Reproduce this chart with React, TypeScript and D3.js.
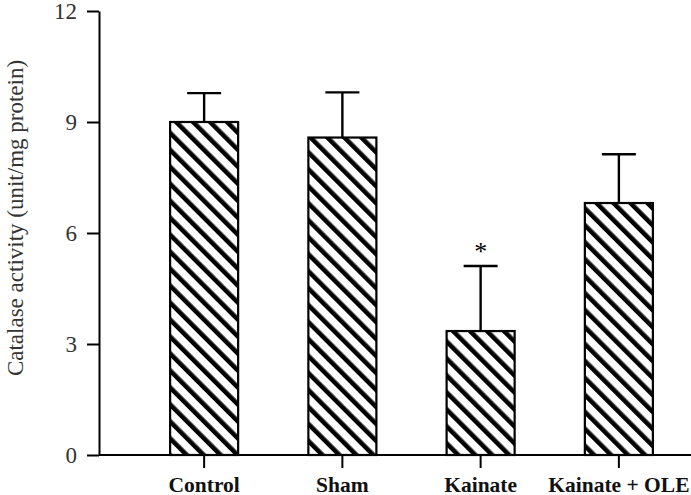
import * as d3 from 'd3'
import { useEffect, useRef } from 'react'

const width = 691
const height = 495
const marginTop = 11
const marginLeft = 99
const axisBottomY = 455

const groups = ['Control', 'Sham', 'Kainate', 'Kainate + OLE']
const means = [9.0, 8.58, 3.35, 6.81]
const errors = [0.78, 1.22, 1.76, 1.32]
const marks = ['', '', '*', '']
const yTicks = [0, 3, 6, 9, 12]

export default function App() {
  const ref = useRef<SVGSVGElement>(null)

  useEffect(() => {
    const svg = d3.select(ref.current)
    svg.selectAll('*').remove()

    const y = d3.scaleLinear([0, 12], [axisBottomY, marginTop])
    const x = d3.scaleBand(groups, [135, 688]).paddingInner(0.508).paddingOuter(0.254)

    // Diagonal hatch
    const defs = svg.append('defs')
    defs
      .append('pattern')
      .attr('id', 'hatch')
      .attr('patternUnits', 'userSpaceOnUse')
      .attr('width', 12)
      .attr('height', 12)
      .attr('patternTransform', 'rotate(-45)')
      .call(p => p.append('rect').attr('width', 12).attr('height', 12).attr('fill', 'white'))
      .call(p => p.append('rect').attr('width', 4.6).attr('height', 12).attr('fill', 'black'))

    // Error bars (drawn first so bar covers the lower part)
    const eb = svg.append('g').attr('stroke', 'black').attr('stroke-width', 2.4)
    groups.forEach((g, i) => {
      const cx = x(g)! + x.bandwidth() / 2
      eb.append('line')
        .attr('x1', cx).attr('x2', cx)
        .attr('y1', y(means[i])).attr('y2', y(means[i] + errors[i]))
      eb.append('line')
        .attr('x1', cx - 17).attr('x2', cx + 17)
        .attr('y1', y(means[i] + errors[i])).attr('y2', y(means[i] + errors[i]))
    })

    // Bars
    svg
      .append('g')
      .selectAll('rect')
      .data(groups)
      .join('rect')
      .attr('x', d => x(d)!)
      .attr('y', (d, i) => y(means[i]))
      .attr('width', x.bandwidth())
      .attr('height', (d, i) => axisBottomY - y(means[i]))
      .attr('fill', 'url(#hatch)')
      .attr('stroke', 'black')
      .attr('stroke-width', 2.2)

    // Significance marks
    svg
      .append('g')
      .selectAll('text')
      .data(groups)
      .join('text')
      .attr('x', d => x(d)! + x.bandwidth() / 2)
      .attr('y', (d, i) => y(means[i] + errors[i]) - 6)
      .attr('text-anchor', 'middle')
      .attr('font-family', 'Liberation Serif')
      .attr('font-size', 26)
      .text((d, i) => marks[i])

    // y-axis
    svg
      .append('g')
      .attr('transform', `translate(${marginLeft},0)`)
      .call(d3.axisLeft(y).tickValues(yTicks).tickSize(12).tickSizeOuter(0).tickPadding(10))
      .call(g => g.select('.domain').attr('stroke-width', 2))
      .call(g => g.selectAll('.tick line').attr('stroke-width', 2))
      .call(g =>
        g
          .selectAll('.tick text')
          .attr('font-family', 'Liberation Serif')
          .attr('font-size', 23)
          .attr('fill', '#333')
      )

    // x-axis
    svg
      .append('g')
      .attr('transform', `translate(0,${axisBottomY})`)
      .call(d3.axisBottom(x).tickSize(13).tickSizeOuter(0))
      .call(g => g.select('.domain').attr('d', `M${marginLeft},0H${width}`).attr('stroke-width', 2))
      .call(g => g.selectAll('.tick line').attr('stroke-width', 2))
      .call(g =>
        g
          .selectAll('.tick text')
          .attr('y', 37)
          .attr('dy', null)
          .attr('font-family', 'Liberation Serif')
          .attr('font-weight', 'bold')
          .attr('font-size', 21.5)
          .attr('fill', '#111')
      )

    // y-axis title
    svg
      .append('text')
      .attr('transform', `translate(23,${(marginTop + axisBottomY) / 2 - 15}) rotate(-90)`)
      .attr('text-anchor', 'middle')
      .attr('font-family', 'Liberation Serif')
      .attr('font-size', 23)
      .attr('fill', '#333')
      .text('Catalase activity (unit/mg protein)')
  }, [])

  return (
    <svg
      ref={ref}
      width={width}
      height={height}
      viewBox={`0 0 ${width} ${height}`}
      style={{ position: 'absolute', left: 0, top: 0, background: 'white' }}
    ></svg>
  )
}
